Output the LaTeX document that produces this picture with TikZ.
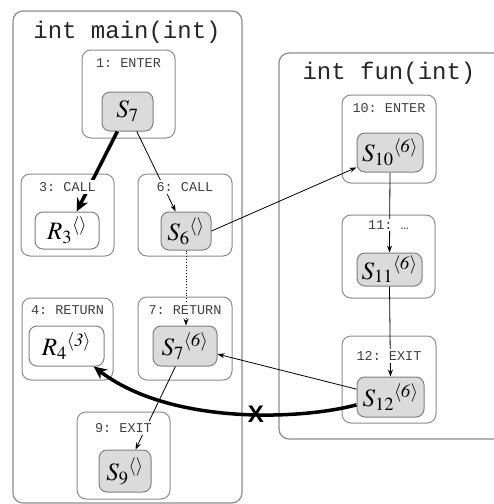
\documentclass[tikz,border=0pt]{standalone}
\usepackage{mathptmx}
\usepackage[no-math]{fontspec}
\setmonofont{Liberation Mono}
\newfontfamily\crossfont{Liberation Sans}
\usetikzlibrary{arrows.meta}

\begin{document}
\begin{tikzpicture}%
	[x=1pt, y=-1pt,
	fnbox/.style={draw=black!45, line width=1.2pt, rounded corners=10pt},
	blockbox/.style={draw=black!45, line width=1pt, rounded corners=9pt, minimum width=93pt},
	shaded/.style={draw=black!50, fill=black!14, line width=1pt, rounded corners=8pt, inner sep=0pt, font=\fontsize{25}{28}\selectfont},
	plain/.style={shaded, fill=white},
	blocktag/.style={font=\ttfamily\fontsize{13.5}{15}\selectfont, text=black!75, fill=white, inner sep=2pt},
	fntitle/.style={font=\ttfamily\fontsize{24}{26}\selectfont, text=black!85, inner sep=0pt},
	crossmark/.style={font=\crossfont\bfseries\fontsize{24}{26}\selectfont, inner sep=0pt},
	link/.style={-{Stealth[length=7pt,width=5pt]}, line width=0.8pt},
	hotlink/.style={-{Stealth[length=13pt,width=12pt]}, line width=3.5pt}]
%
\useasboundingbox (0,0) rectangle (494,504);
\clip (0,0) rectangle (494,504);
%
%% The two functions
%%
\node[fnbox, minimum width=229pt, minimum height=492pt] (main) at (127.5,257) {};
\node[fntitle] (tmain) at (127,32) {int main(int)};
\node[fnbox, minimum width=226pt, minimum height=386pt] (fun) at (392,246) {};
\node[fntitle] (tfun) at (389,73) {int fun(int)};
%%
%%
%% Blocks of main
%%
\node[blockbox, minimum height=88pt] (b1) at (128.5,94) {};
\node[shaded, minimum width=51pt, minimum height=39pt] (s7) at (127.5,111.5) {$S_{7}$};
%
\node[blockbox, minimum height=82pt] (b3) at (67.5,215) {};
\node[plain, minimum width=64pt, minimum height=37pt] (r3) at (67,230.5) {$R_{3}{}^{\langle\rangle}$};
%
\node[blockbox, minimum width=94pt, minimum height=82pt] (b6) at (185,215) {};
\node[shaded, minimum width=50pt, minimum height=38pt] (s6) at (186,231) {$S_{6}{}^{\langle\rangle}$};
%
\node[blockbox, minimum width=91pt, minimum height=82pt] (b4) at (67.5,339) {};
\node[plain, minimum width=75pt, minimum height=40pt] (r4) at (66.5,346) {$R_{4}{}^{\langle\mathit{3}\rangle}$};
%
\node[blockbox, minimum width=94pt, minimum height=83pt] (b7) at (185,338.5) {};
\node[shaded, minimum width=64pt, minimum height=40pt] (s76) at (185,346) {$S_{7}{}^{\langle\mathit{6}\rangle}$};
%
\node[blockbox, minimum height=87pt] (b9) at (123.5,455.5) {};
\node[shaded, minimum width=52pt, minimum height=42pt] (s9) at (125,471) {$S_{9}{}^{\langle\rangle}$};
%%
%%
%% Blocks of fun
%%
\node[blockbox, minimum width=94pt, minimum height=88pt] (b10) at (389,139) {};
\node[shaded, minimum width=66pt, minimum height=39pt] (s10) at (390,152.5) {$S_{10}{}^{\langle\mathit{6}\rangle}$};
%
\node[blockbox, minimum height=83pt] (b11) at (388.5,256.5) {};
\node[shaded, minimum width=65pt, minimum height=33pt] (s11) at (389.5,269.5) {$S_{11}{}^{\langle\mathit{6}\rangle}$};
%
\node[blockbox, minimum width=94pt, minimum height=87pt] (b12) at (389,379.5) {};
\node[shaded, minimum width=67pt, minimum height=40pt] (s12) at (390.5,397) {$S_{12}{}^{\langle\mathit{6}\rangle}$};
%%
%%
%% Edges
%%
\draw[hotlink] (s7.-117) -- (r3.63);
\draw[link] (s7.-65) -- (s6.118);
\draw[link] (s6.east) -- (s10.204);
\draw[link, dotted] (s6.south) -- (s6.south |- s76.north);
\draw[link] (s76.-115) -- (s9.64);
\draw[link] (s10.south) -- (s11.north);
\draw[link] (s11.south) -- (s12.north);
\draw[link] (s12.167) -- (s76.-14);
\draw[hotlink] (s12.193) .. controls (300,420) and (170,425) .. (r4.-37);
\node[crossmark] (cut) at (256,414) {X};
%%
%%
%% Block labels, over the edges
%%
\node[blocktag] (t1) at (128.5,63) {1: ENTER};
\node[blocktag] (t3) at (67.5,187) {3: CALL};
\node[blocktag] (t6) at (185,187) {6: CALL};
\node[blocktag] (t4) at (67.5,310) {4: RETURN};
\node[blocktag] (t7) at (185,310) {7: RETURN};
\node[blocktag] (t9) at (123.5,428) {9: EXIT};
\node[blocktag] (t10) at (389,108) {10: ENTER};
\node[blocktag] (t11) at (388.5,225) {11: …};
\node[blocktag] (t12) at (389,356) {12: EXIT};
%%
%%
\end{tikzpicture}
\end{document}
